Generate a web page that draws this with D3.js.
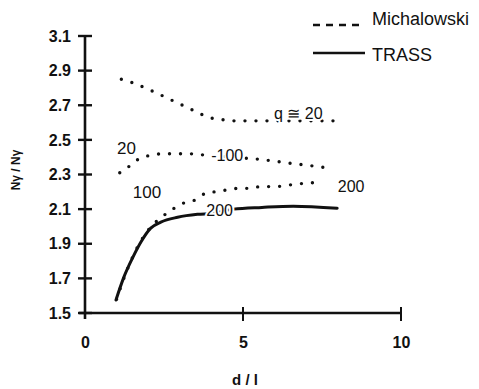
<!DOCTYPE html>
<html>
<head>
<meta charset="utf-8">
<script src="https://cdn.jsdelivr.net/npm/d3@7"></script>
<style>
  html, body { margin: 0; padding: 0; background: #fff; }
  svg { display: block; font-family: "Liberation Sans", Arial, sans-serif; }
</style>
</head>
<body>
<svg id="chart" width="479" height="389"></svg>
<script>
// ---- data ----
const xTicks = [0, 5, 10];
const yTicks = [1.5, 1.7, 1.9, 2.1, 2.3, 2.5, 2.7, 2.9, 3.1];

// Michalowski, q = 20
const mQ20x = [1.15, 1.5, 2.15, 2.85, 3.55, 3.9, 4.25, 4.6, 5.0, 5.5, 6.0, 7.0, 8.0];
const mQ20y = [2.85, 2.83, 2.78, 2.72, 2.66, 2.63, 2.62, 2.61, 2.61, 2.61, 2.61, 2.61, 2.61];
// Michalowski, q = 100
const mQ100x = [1.1, 1.42, 1.7, 2.05, 2.46, 3.25, 3.91, 4.6, 5.39, 6.5, 7.85];
const mQ100y = [2.31, 2.35, 2.39, 2.41, 2.42, 2.42, 2.41, 2.40, 2.39, 2.365, 2.335];
// Michalowski, q = 200
const mQ200x = [1.0, 1.25, 1.5, 1.75, 2.05, 2.4, 2.7, 3.05, 3.45, 3.8, 4.1, 4.45, 4.85, 5.2, 5.55, 6.0, 6.5, 7.0, 7.45];
const mQ200y = [1.58, 1.71, 1.82, 1.91, 1.99, 2.05, 2.09, 2.13, 2.15, 2.19, 2.20, 2.21, 2.22, 2.22, 2.23, 2.23, 2.24, 2.25, 2.255];
// TRASS
const trassX = [0.98, 1.23, 1.51, 1.77, 2.08, 2.4, 2.93, 3.56, 4.07, 4.7, 5.6, 6.59, 7.98];
const trassY = [1.575, 1.707, 1.82, 1.91, 1.99, 2.025, 2.053, 2.07, 2.076, 2.1, 2.11, 2.117, 2.105];

// curve annotations: text, x, y (data units), anchor
const annText = ["q ≅ 20", "-100", "20", "100", "200", "200"];
const annX    = [6.75, 4.5, 1.31, 1.96, 8.0, 4.26];
const annY    = [2.62, 2.38, 2.42, 2.164, 2.2, 2.06];
const annAnchor = ["middle", "middle", "middle", "middle", "start", "middle"];

const legendLabels = ["Michalowski", "TRASS"];

// ---- drawing ----
const svg = d3.select("#chart");
const x = d3.scaleLinear().domain([0, 10]).range([85, 401]);
const y = d3.scaleLinear().domain([1.5, 3.1]).range([313, 36]);

const ink = "#111";

// y axis
const yAxis = d3.axisLeft(y).tickValues(yTicks).tickFormat(d3.format(".1f")).tickSize(0).tickPadding(14);
const gy = svg.append("g").attr("transform", `translate(${x(0)},0)`).call(yAxis);
gy.select(".domain").remove();
gy.selectAll("text").attr("font-size", 16).attr("font-weight", "bold").attr("fill", ink);
svg.append("line").attr("x1", x(0)).attr("x2", x(0)).attr("y1", y(3.1)).attr("y2", y(1.5) + 6)
  .attr("stroke", ink).attr("stroke-width", 2.6);
svg.append("g").selectAll("line").data(yTicks).join("line")
  .attr("x1", x(0) - 7).attr("x2", x(0) + 7)
  .attr("y1", d => y(d)).attr("y2", d => y(d))
  .attr("stroke", ink).attr("stroke-width", 2.4);

// x axis
const xAxis = d3.axisBottom(x).tickValues(xTicks).tickFormat(d3.format("d")).tickSize(0).tickPadding(24);
const gx = svg.append("g").attr("transform", `translate(0,${y(1.5)})`).call(xAxis);
gx.select(".domain").remove();
gx.selectAll("text").attr("font-size", 16).attr("font-weight", "bold").attr("fill", ink);
svg.append("line").attr("x1", x(0) - 6).attr("x2", x(10)).attr("y1", y(1.5)).attr("y2", y(1.5))
  .attr("stroke", ink).attr("stroke-width", 2.6);
svg.append("g").selectAll("line").data(xTicks.slice(1)).join("line")
  .attr("x1", d => x(d)).attr("x2", d => x(d))
  .attr("y1", y(1.5) - 6).attr("y2", y(1.5) + 8)
  .attr("stroke", ink).attr("stroke-width", 2);

// axis titles
svg.append("text").attr("x", x(5) + 2).attr("y", 385).attr("text-anchor", "middle")
  .attr("font-size", 15).attr("font-weight", "bold").attr("fill", ink).text("d / l");
svg.append("text").attr("transform", "translate(20,170) rotate(-90)").attr("text-anchor", "middle")
  .attr("font-size", 12).attr("font-weight", "bold").attr("fill", ink).text("Nγ / Nγ");

// curves
const line = d3.line().x(d => x(d[0])).y(d => y(d[1])).curve(d3.curveMonotoneX);
const zip = (a, b) => a.map((v, i) => [v, b[i]]);

const dotted = [zip(mQ20x, mQ20y), zip(mQ100x, mQ100y), zip(mQ200x, mQ200y)];
svg.append("g").selectAll("path").data(dotted).join("path")
  .attr("d", line).attr("fill", "none").attr("stroke", ink)
  .attr("stroke-width", 3.4).attr("stroke-linecap", "round").attr("stroke-dasharray", "0 11");

svg.append("path").datum(zip(trassX, trassY)).attr("d", line)
  .attr("fill", "none").attr("stroke", ink).attr("stroke-width", 3).attr("stroke-linecap", "round");

// annotations
svg.append("g").selectAll("text").data(annText).join("text")
  .attr("x", (d, i) => x(annX[i])).attr("y", (d, i) => y(annY[i]))
  .attr("text-anchor", (d, i) => annAnchor[i])
  .attr("font-size", (d, i) => (i === 2 || i === 3) ? 17 : 16)
  .attr("fill", ink)
  .attr("stroke", "#fff").attr("stroke-width", 4).attr("paint-order", "stroke")
  .text(d => d);

// legend
const lg = svg.append("g");
lg.append("line").attr("x1", 313).attr("x2", 363).attr("y1", 25).attr("y2", 25)
  .attr("stroke", ink).attr("stroke-width", 2.6).attr("stroke-dasharray", "7 6");
lg.append("line").attr("x1", 313).attr("x2", 365).attr("y1", 53).attr("y2", 53)
  .attr("stroke", ink).attr("stroke-width", 2.6);
lg.selectAll("text").data(legendLabels).join("text")
  .attr("x", 372).attr("y", (d, i) => i === 0 ? 25 : 61)
  .attr("font-size", 18).attr("fill", ink)
  .text(d => d);
</script>
</body>
</html>
